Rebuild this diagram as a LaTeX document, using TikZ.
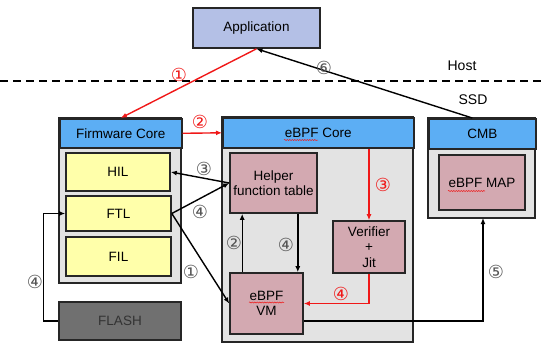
\documentclass[tikz,border=0pt]{standalone}
\usepackage{fontspec}
\setmainfont{Liberation Sans}
\newfontfamily\circfont{DejaVu Sans}
\usepackage{tikz}
\usetikzlibrary{arrows.meta,positioning,calc,decorations.pathmorphing}
\definecolor{appblue}{HTML}{B4C0E6}
\definecolor{hdrblue}{HTML}{5CAEF4}
\definecolor{bodygray}{HTML}{E3E3E3}
\definecolor{lyellow}{HTML}{FFFFAA}
\definecolor{rose}{HTML}{D3A9B1}
\definecolor{flashgray}{HTML}{707070}
\definecolor{numgray}{HTML}{555555}
\definecolor{ared}{HTML}{F01818}

\begin{document}
\begin{tikzpicture}[x=1pt,y=-1pt,
    box/.style={draw=black!85,line width=1.6pt,inner sep=0pt,align=center,font=\fontsize{13.5}{15.5}\selectfont},
    hdr/.style={box,fill=hdrblue,anchor=north west},
    body/.style={draw=black!85,line width=1.6pt,fill=bodygray},
    lay/.style={box,fill=lyellow},
    part/.style={box,fill=rose},
    conn/.style={-{Latex[length=6pt,width=5pt]},line width=1.4pt},
    rconn/.style={conn,ared},
    num/.style={font=\circfont\fontsize{18}{18}\selectfont,color=numgray},
    rnum/.style={num,color=ared},
    squig/.style={ared,line width=0.5pt,decorate,decoration={snake,amplitude=0.6pt,segment length=2.5pt}}]
  \useasboundingbox (0,0) rectangle (541,348);
  % host side
  \node[box,fill=appblue,minimum width=127,minimum height=40] (app) at (256.5,28) {Application};
  \draw[line width=1.8pt,dash pattern=on 8pt off 5pt] (0,81) -- (541,81);
  \node[font=\fontsize{14}{15}\selectfont] (host) at (462,66) {Host};
  \node[font=\fontsize{14}{15}\selectfont] (ssd) at (473,100) {SSD};
  % firmware core
  \draw[body] (59,118) rectangle (181,283);
  \node[hdr,minimum width=122,minimum height=29] (fwhdr) at (59,118) {Firmware Core};
  \node[lay,minimum width=104,minimum height=38] (hil) at (118,172) {HIL};
  \node[lay,minimum width=105,minimum height=35] (ftl) at (118.5,213.5) {FTL};
  \node[lay,minimum width=105,minimum height=39] (fil) at (118.5,256.5) {FIL};
  \node[box,fill=flashgray,text=black!80,minimum width=122,minimum height=38] (flash) at (120,321) {FLASH};
  % ebpf core
  \draw[body] (222,117) rectangle (413,342);
  \node[hdr,minimum width=191,minimum height=30] (ebhdr) at (222,117) {eBPF Core};
  \node[part,minimum width=87,minimum height=60] (helper) at (273.5,183) {Helper\\function table};
  \node[part,minimum width=72,minimum height=52] (verifier) at (369,247) {Verifier\\+\\Jit};
  \node[part,minimum width=73,minimum height=61] (vm) at (266.5,303.5) {eBPF\\VM};
  % cmb
  \draw[body] (428,118) rectangle (535,218);
  \node[hdr,minimum width=107,minimum height=30] (cmbhdr) at (428,118) {CMB};
  \node[part,minimum width=86,minimum height=55] (map) at (482,182.5) {eBPF MAP};
  \coordinate (cmbfoot) at (483,218);
  % spell-check marks
  \draw[squig] (284,140) -- (318,140);
  \draw[squig] (448,191) -- (485,191);
  \draw[squig] (249,302.5) -- (284,302.5);
  % connectors
  \draw[rconn] (app.south) -- (fwhdr.north);
  \node[rnum] (r1) at (179,75) {①};
  \draw[conn] ([xshift=-10pt]cmbhdr.north) -- (app.south);
  \node[num] (n6) at (324,68) {⑥};
  \draw[rconn] (fwhdr.east) -- (ebhdr.west);
  \node[rnum] (r2) at (200,122) {②};
  \draw[conn] (helper.west) -- (hil.east);
  \node[num] (n3) at (204,169) {③};
  \draw[conn] (ftl.east) -- (helper.west);
  \node[num] (n4a) at (200,212) {④};
  \draw[conn] (ftl.east) -- (vm.west);
  \node[num] (n1) at (191,272) {①};
  \draw[conn] (flash.west) -- ++(-15,0) |- (ftl.west);
  \node[num] (n4b) at (35,282) {④};
  \draw[conn] ([xshift=13pt]vm.north west) -- ([xshift=13pt]helper.south west);
  \node[num] (n2) at (234,243) {②};
  \draw[conn] ([xshift=-20pt]helper.south east) -- ([xshift=-6pt]vm.north east);
  \node[num] (n4c) at (286,245) {④};
  \draw[rconn] (ebhdr.south -| verifier.north) -- (verifier.north);
  \node[rnum] (r3) at (383,185) {③};
  \draw[rconn] (verifier.south) |- (vm.east);
  \node[rnum] (r4) at (341,294) {④};
  \draw[conn] ([yshift=-17.5pt]vm.east) -| (cmbfoot);
  \node[num] (n5) at (496,272) {⑤};
\end{tikzpicture}
\end{document}
